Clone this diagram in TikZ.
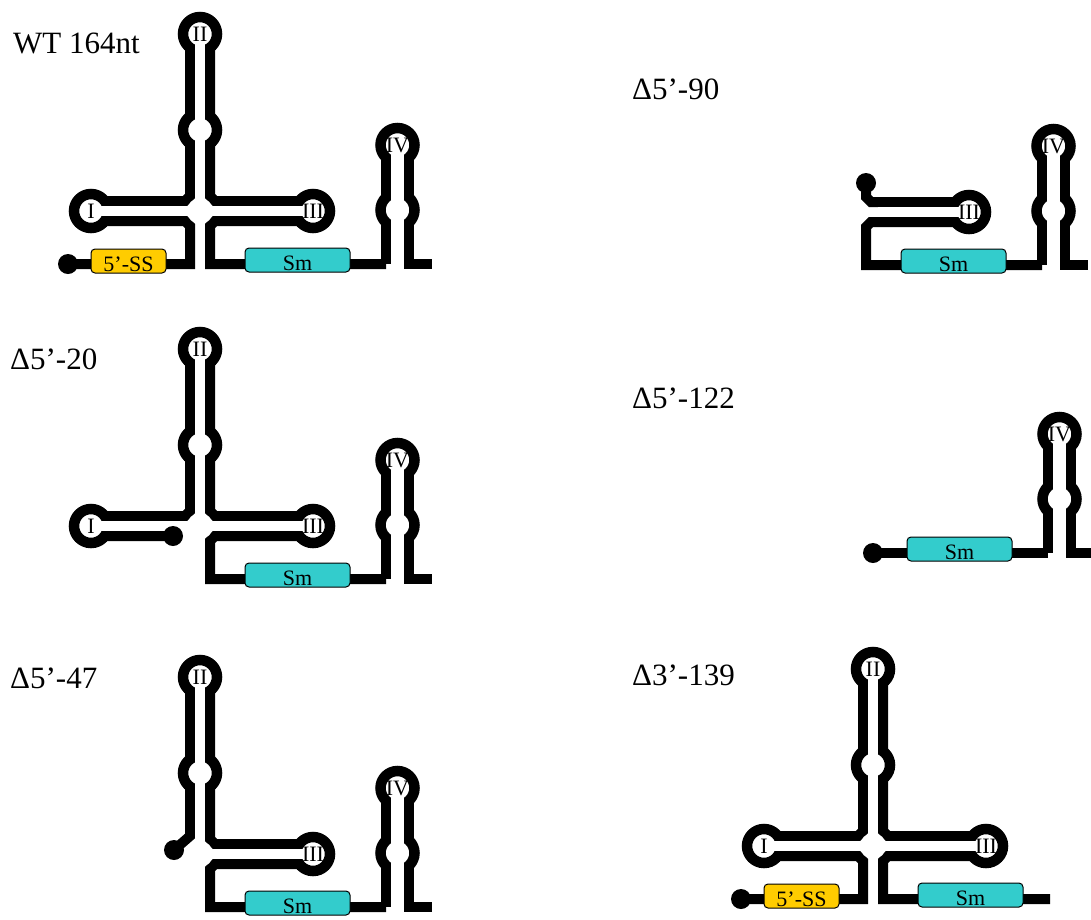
\documentclass[tikz,border=0pt]{standalone}
\usepackage{fontspec}
\setmainfont{Liberation Serif}
\definecolor{ssgold}{HTML}{FFCC00}
\definecolor{smteal}{HTML}{33CCCC}
% strands of the WT molecule (picture coordinates, y downwards)
\newcommand{\strandA}{(68,264) -- (190,264) -- (190,226) -- (185,221) -- (91,221)}
\newcommand{\strandB}{(91,201) -- (185,201) -- (190,196) -- (190,34)}
\newcommand{\strandC}{(210,34) -- (210,196) -- (215,201) -- (313,201)}
\newcommand{\strandD}{(313,221) -- (215,221) -- (210,226) -- (210,264) -- (386,264)}
% hairpin IV, #1 = prefix of the node names
\newcommand{\hairpinIV}[1]{%
  \draw[strand] (386,264) -- (386,145) (409,145) -- (409,264) -- (432,264);
  \foreach \cy in {145,210} \draw[ring] (397.5,\cy) circle[radius=17pt];
  \draw[gap,line width=13pt] (397.5,145) -- (397.5,264);
  \node[numeral] (#1-IV) at (397.5,145) {IV};}
% helices I, II, III round the junction
\newcommand{\tjunction}{%
  \foreach \cx/\cy in {91/211,200/34,200/130,313/211} \draw[ring] (\cx,\cy) circle[radius=17pt];
  \draw[gap] (91,211) -- (313,211) (200,34) -- (200,211);
  \fill[white] (200,211) circle[radius=13pt];}
\begin{document}
\begin{tikzpicture}[x=1pt,y=-1pt,
    strand/.style={line width=10pt},
    ring/.style={line width=10.5pt,fill=white},
    gap/.style={white,line width=10pt},
    endball/.style={circle,fill=black,inner sep=0pt,minimum size=20pt},
    numeral/.style={inner sep=0pt,font=\fontsize{22}{22}\selectfont},
    title/.style={anchor=base west,inner sep=0pt,font=\fontsize{31}{31}\selectfont},
    site/.style={draw,line width=1pt,rounded corners=4pt,inner sep=0pt,minimum height=24pt,
      text height=22pt,text depth=2pt,font=\fontsize{22}{22}\selectfont},
    ss/.style={site,fill=ssgold,minimum width=75pt},
    sm/.style={site,fill=smteal,minimum width=105pt}]
\useasboundingbox (0,0) rectangle (1091,919);

% WT 164nt
\begin{scope}
  \draw[strand] \strandA \strandB \strandC \strandD;
  \tjunction
  \hairpinIV{wt}
  \node[endball] (wt-5) at (68,264) {};
  \node[ss] (wt-ss) at (128.5,261) {5’-SS};
  \node[sm] (wt-sm) at (297.5,260) {Sm};
  \node[numeral] (wt-I) at (91,211) {I};
  \node[numeral] (wt-II) at (200,34) {II};
  \node[numeral] (wt-III) at (313,211) {III};
\end{scope}

% 5' deletion of 20 nt
\begin{scope}[shift={(0,315)}]
  \draw[strand] (173,221) -- (91,221) \strandB \strandC \strandD;
  \tjunction
  \hairpinIV{d20}
  \node[endball] (d20-5) at (173,221) {};
  \node[sm] (d20-sm) at (297.5,260) {Sm};
  \node[numeral] (d20-I) at (91,211) {I};
  \node[numeral] (d20-II) at (200,34) {II};
  \node[numeral] (d20-III) at (313,211) {III};
\end{scope}

% 5' deletion of 47 nt
\begin{scope}[shift={(0,643)}]
  \draw[strand] (174,207) -- (190,193) -- (190,34) \strandC \strandD;
  \foreach \cx/\cy in {200/34,200/130,313/211} \draw[ring] (\cx,\cy) circle[radius=17pt];
  \draw[gap] (200,211) -- (313,211) (200,34) -- (200,211);
  \fill[white] (200,211) circle[radius=13pt];
  \hairpinIV{d47}
  \node[endball] (d47-5) at (174,207) {};
  \node[sm] (d47-sm) at (297.5,260) {Sm};
  \node[numeral] (d47-II) at (200,34) {II};
  \node[numeral] (d47-III) at (313,211) {III};
\end{scope}

% 5' deletion of 90 nt
\begin{scope}[shift={(656,1)}]
  \draw[strand] (210,182) -- (210,196) -- (215,201) -- (313,201) \strandD;
  \draw[ring] (313,211) circle[radius=17pt];
  \draw[gap] (222,211) -- (313,211);
  \hairpinIV{d90}
  \node[endball] (d90-5) at (210,182) {};
  \node[sm] (d90-sm) at (297.5,260) {Sm};
  \node[numeral] (d90-III) at (313,211) {III};
\end{scope}

% 5' deletion of 122 nt
\begin{scope}[shift={(662,289)}]
  \draw[strand] (211,264) -- (386,264);
  \hairpinIV{d122}
  \node[endball] (d122-5) at (211,264) {};
  \node[sm] (d122-sm) at (297.5,260) {Sm};
\end{scope}

% 3' deletion of 139 nt
\begin{scope}[shift={(673,635)}]
  \draw[strand] \strandA \strandB \strandC (313,221) -- (215,221) -- (210,226) -- (210,264) -- (377,264);
  \tjunction
  \node[endball] (d139-5) at (68,264) {};
  \node[ss] (d139-ss) at (128.5,261) {5’-SS};
  \node[sm] (d139-sm) at (297.5,260) {Sm};
  \node[numeral] (d139-I) at (91,211) {I};
  \node[numeral] (d139-II) at (200,34) {II};
  \node[numeral] (d139-III) at (313,211) {III};
\end{scope}

% panel titles
\node[title] (t-wt) at (13,53) {WT 164nt};
\node[title] (t-20) at (10,369) {Δ5’-20};
\node[title] (t-47) at (10,688) {Δ5’-47};
\node[title] (t-90) at (632,99) {Δ5’-90};
\node[title] (t-122) at (632,408) {Δ5’-122};
\node[title] (t-139) at (632,685) {Δ3’-139};
\end{tikzpicture}
\end{document}
